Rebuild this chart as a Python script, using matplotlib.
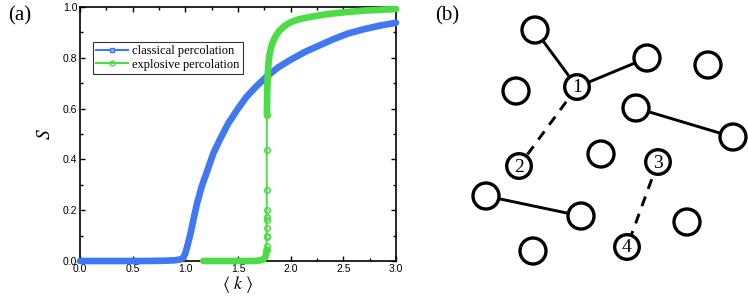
import numpy as np
import matplotlib
matplotlib.use("Agg")
import matplotlib.pyplot as plt
from matplotlib.lines import Line2D
from matplotlib.patches import Circle

plt.rcParams["font.family"] = ["Liberation Sans", "DejaVu Sans"]
plt.rcParams["mathtext.fontset"] = "stix"

# (a) giant component S versus mean degree <k>
blue_k = [0.0, 0.3, 0.6, 0.8, 0.9, 0.95, 0.98, 1.0, 1.02, 1.05, 1.076, 1.11, 1.155,
          1.2, 1.266, 1.33, 1.408, 1.5, 1.582, 1.68, 1.772, 1.88, 1.994, 2.13,
          2.279, 2.41, 2.547, 2.7, 2.85, 3.0]
blue_S = [0.0, 0.0, 0.0, 0.001, 0.003, 0.006, 0.012, 0.03, 0.06, 0.11, 0.161, 0.225, 0.293,
          0.345, 0.424, 0.48, 0.542, 0.60, 0.647, 0.69, 0.726, 0.762, 0.791, 0.822,
          0.850, 0.874, 0.896, 0.913, 0.927, 0.938]

green_low_k = [1.17, 1.3, 1.5, 1.65, 1.70, 1.74, 1.76, 1.768, 1.771]
green_low_S = [0.0, 0.0, 0.0, 0.0, 0.002, 0.006, 0.015, 0.03, 0.045]
green_jump_k = [1.771, 1.771, 1.772, 1.772, 1.772, 1.772, 1.772, 1.773, 1.773, 1.773, 1.774]
green_jump_S = [0.043, 0.06, 0.096, 0.10, 0.129, 0.161, 0.172, 0.201, 0.28, 0.437, 0.575]
green_high_k = [1.774, 1.776, 1.778, 1.781, 1.785, 1.79, 1.80, 1.82, 1.85, 1.89, 1.94,
                2.0, 2.08, 2.2, 2.35, 2.5, 2.7, 2.85, 3.0]
green_high_S = [0.575, 0.62, 0.67, 0.71, 0.75, 0.78, 0.815, 0.85, 0.88, 0.905, 0.925,
                0.94, 0.952, 0.962, 0.972, 0.979, 0.986, 0.989, 0.992]

# (b) network sketch: node positions (pixels), labels, edges
node_x = [535, 647, 708, 516, 577, 636, 733, 601, 519, 658, 486, 581, 687, 533, 627]
node_y = [30, 58, 65, 91, 87, 108, 137, 154, 166, 162, 196, 216, 222, 251, 247]
node_lab = ["", "", "", "", "1", "", "", "", "2", "3", "", "", "", "", "4"]
solid_edges = [(0, 4), (4, 1), (5, 6), (10, 11)]
dashed_edges = [(4, 8), (9, 14)]

BLUE = "#3f78f0"
GREEN = "#4ddc48"
W, H = 748, 299
BAND = 4.8

fig = plt.figure(figsize=(W / 100, H / 100), dpi=100)
ax = fig.add_axes([80 / W, (H - 261) / H, 316 / W, 254 / H])

ax.plot(blue_k, blue_S, color=BLUE, lw=BAND, solid_capstyle="round",
        solid_joinstyle="round", clip_on=False, zorder=3)
ax.plot(green_low_k, green_low_S, color=GREEN, lw=BAND, solid_capstyle="round",
        solid_joinstyle="round", clip_on=False, zorder=4)
ax.plot(green_jump_k, green_jump_S, color=GREEN, lw=1.4, marker="o", ms=4,
        mfc="none", mec=GREEN, mew=1.1, clip_on=False, zorder=4)
ax.plot(green_high_k, green_high_S, color=GREEN, lw=BAND, solid_capstyle="round",
        solid_joinstyle="round", clip_on=False, zorder=4)

ax.set_xlim(0, 3.0)
ax.set_ylim(0, 1.0)
ax.set_xticks(np.arange(0, 3.01, 0.5))
ax.set_yticks(np.arange(0, 1.01, 0.2))
ax.set_xticks(np.arange(0.25, 3.0, 0.5), minor=True)
ax.set_yticks(np.arange(0.1, 1.0, 0.2), minor=True)
ax.xaxis.set_major_formatter(plt.FormatStrFormatter("%.1f"))
ax.yaxis.set_major_formatter(plt.FormatStrFormatter("%.1f"))
ax.tick_params(which="both", direction="in", top=True, right=True, width=1.0, labelsize=7.5, pad=2)
ax.tick_params(which="major", length=3.5)
ax.tick_params(which="minor", length=2)
for sp in ax.spines.values():
    sp.set_linewidth(1.2)

ax.set_xlabel(r"$\langle\ k\ \rangle$", fontsize=13, labelpad=0)
ax.set_ylabel(r"$S$", fontsize=14, labelpad=6)

handles = [
    Line2D([], [], color=BLUE, lw=1.5, marker="s", ms=3.5, mfc="#9ab8f6", mec=BLUE, mew=1.0),
    Line2D([], [], color=GREEN, lw=1.5, marker="o", ms=3.5, mfc="none", mec=GREEN, mew=1.0),
]
leg = ax.legend(handles, ["classical percolation", "explosive percolation"],
                loc="upper left", bbox_to_anchor=(0.04, 0.863), borderaxespad=0,
                prop={"family": "Liberation Serif", "size": 9}, frameon=True, fancybox=False,
                edgecolor="black", handlelength=2.6, handletextpad=0.3, borderpad=0.25,
                labelspacing=0.15)
leg.get_frame().set_linewidth(0.8)

fig.text(20 / W, 1 - 16 / H, "(a)", family="Liberation Serif", fontsize=15, ha="center", va="center")
fig.text(447 / W, 1 - 16 / H, "(b)", family="Liberation Serif", fontsize=15, ha="center", va="center")

# (b) panel in pixel coordinates
bx = fig.add_axes([420 / W, 0, (W - 420) / W, 1])
bx.set_xlim(420, W)
bx.set_ylim(H, 0)
bx.axis("off")
R = 13
for i, j in solid_edges:
    bx.plot([node_x[i], node_x[j]], [node_y[i], node_y[j]], color="black", lw=2.1, zorder=1)
for i, j in dashed_edges:
    bx.plot([node_x[i], node_x[j]], [node_y[i], node_y[j]], color="black", lw=2.1,
            dashes=(3.5, 2.8), zorder=1)
for x, y, lab in zip(node_x, node_y, node_lab):
    r = R - 0.7 if lab else R
    bx.add_patch(Circle((x, y), r, facecolor="white", edgecolor="black", lw=2.4, zorder=2))
    if lab:
        bx.text(x, y + 1, lab, family="Liberation Serif", fontsize=14, ha="center", va="center", zorder=3)

fig.savefig("out.png", dpi=100)
